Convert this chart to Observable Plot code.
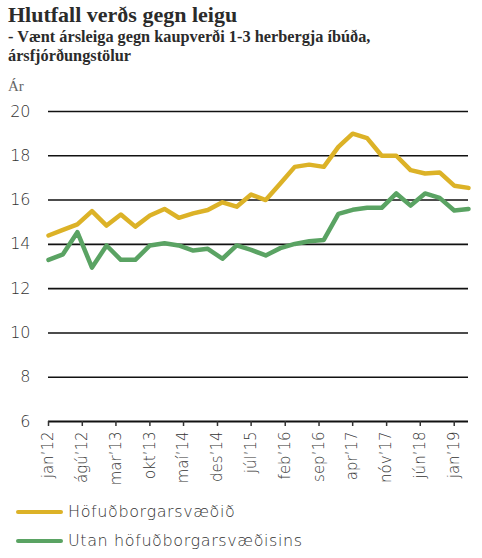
<!DOCTYPE html>
<html>
<head>
<meta charset="utf-8">
<script src="https://cdn.jsdelivr.net/npm/d3@7"></script>
<script src="https://cdn.jsdelivr.net/npm/@observablehq/plot@0.6"></script>
<style>
  body { margin: 0; background: #fff; }
  #wrap { position: relative; width: 482px; height: 558px; overflow: hidden; }
  .title { position: absolute; left: 8px; top: 4px; font: bold 22px/22px "Liberation Serif", "DejaVu Serif", serif; color: #2b2b2b; white-space: nowrap; }
  .sub { position: absolute; left: 8px; top: 27px; font: bold 16.3px/19px "Liberation Serif", "DejaVu Serif", serif; color: #2b2b2b; white-space: nowrap; }
  .unit { position: absolute; left: 8px; top: 79px; font: 15px/15px "Liberation Serif", serif; color: #666; }
  #plot { position: absolute; left: 0; top: 100px; }
  .legend { position: absolute; left: 16px; font: 200 16px/20px "DejaVu Sans", sans-serif; letter-spacing: 0.6px; color: #333; display: flex; align-items: center; white-space: nowrap; }
  .legend span.sw { display: inline-block; width: 47px; height: 4px; border-radius: 2px; margin-right: 5px; }
</style>
</head>
<body>
<div id="wrap">
  <div class="title">Hlutfall verðs gegn leigu</div>
  <div class="sub">- Vænt ársleiga gegn kaupverði 1-3 herbergja íbúða,<br>ársfjórðungstölur</div>
  <div class="unit">Ár</div>
  <div id="plot"></div>
  <div id="legend"></div>
</div>
<script>
// quarterly data, Q1 2012 - Q2 2019
const quarters = [
  "2012-01", "2012-04", "2012-07", "2012-10",
  "2013-01", "2013-04", "2013-07", "2013-10",
  "2014-01", "2014-04", "2014-07", "2014-10",
  "2015-01", "2015-04", "2015-07", "2015-10",
  "2016-01", "2016-04", "2016-07", "2016-10",
  "2017-01", "2017-04", "2017-07", "2017-10",
  "2018-01", "2018-04", "2018-07", "2018-10",
  "2019-01", "2019-04",
];
const capital = [
  14.4, 14.65, 14.9, 15.5, 14.85, 15.35, 14.8, 15.3, 15.6, 15.2,
  15.4, 15.55, 15.9, 15.7, 16.25, 16.0, 16.75, 17.5, 17.6, 17.5,
  18.4, 19.0, 18.8, 18.0, 18.0, 17.35, 17.2, 17.25, 16.65, 16.55,
];
const outside = [
  13.3, 13.55, 14.55, 12.95, 13.95, 13.3, 13.3, 13.95, 14.05, 13.95,
  13.72, 13.8, 13.35, 13.95, 13.75, 13.5, 13.83, 14.02, 14.14, 14.2,
  15.38, 15.56, 15.65, 15.65, 16.3, 15.75, 16.3, 16.1, 15.53, 15.6,
];
const seriesNames = ["Höfuðborgarsvæðið", "Utan höfuðborgarsvæðisins"];
const seriesColors = ["#dcb227", "#5aa363"];

const tickMonths = [
  "2012-01", "2012-08", "2013-03", "2013-10", "2014-05", "2014-12", "2015-07",
  "2016-02", "2016-09", "2017-04", "2017-11", "2018-06", "2019-01",
];
const tickLabels = [
  "jan’12", "ágú’12", "mar’13", "okt’13", "maí’14", "des’14", "júl’15",
  "feb’16", "sep’16", "apr’17", "nóv’17", "jún’18", "jan’19",
];
const yTicks = [6, 8, 10, 12, 14, 16, 18, 20];

const parse = d3.utcParse("%Y-%m");
const tickDates = tickMonths.map(parse);
const labelMap = new Map(tickDates.map((d, i) => [+d, tickLabels[i]]));

const rows = [capital, outside].flatMap((vals, s) =>
  vals.map((v, i) => ({ date: parse(quarters[i]), value: v, series: seriesNames[s] }))
);

const chart = Plot.plot({
  width: 482,
  height: 401,
  marginTop: 11,
  marginLeft: 48,
  marginRight: 14,
  marginBottom: 80,
  style: { fontFamily: "'DejaVu Sans', sans-serif", fontWeight: 200, color: "#333", background: "transparent" },
  x: { type: "utc", domain: [parse(quarters[0]), parse(quarters[quarters.length - 1])] },
  y: { domain: [6, 20] },
  color: { domain: seriesNames, range: seriesColors },
  marks: [
    Plot.ruleY(yTicks.filter((v) => v > 6), { stroke: "#111", strokeWidth: 1.6, x1: parse("2012-01"), x2: parse("2019-04") }),
    Plot.axisY({ ticks: yTicks, tickSize: 0, tickPadding: 18, label: null, fontSize: 16 }),
    Plot.ruleY([6], { stroke: "#111", strokeWidth: 1.8 }),
    Plot.axisX({
      ticks: tickDates,
      tickFormat: (d) => labelMap.get(+d),
      tickRotate: -90,
      tickSize: 5,
      tickPadding: 5,
      strokeWidth: 1.5,
      label: null,
      fontSize: 15,
    }),
    Plot.line(rows, { x: "date", y: "value", stroke: "series", strokeWidth: 4.5, strokeLinejoin: "round", strokeLinecap: "round" }),
  ],
});
document.getElementById("plot").appendChild(chart);

// legend
const legend = document.getElementById("legend");
seriesNames.forEach((name, i) => {
  const item = document.createElement("div");
  item.className = "legend";
  item.style.top = (502 + i * 29) + "px";
  item.innerHTML = `<span class="sw" style="background:${seriesColors[i]}"></span>${name}`;
  legend.appendChild(item);
});
</script>
</body>
</html>
